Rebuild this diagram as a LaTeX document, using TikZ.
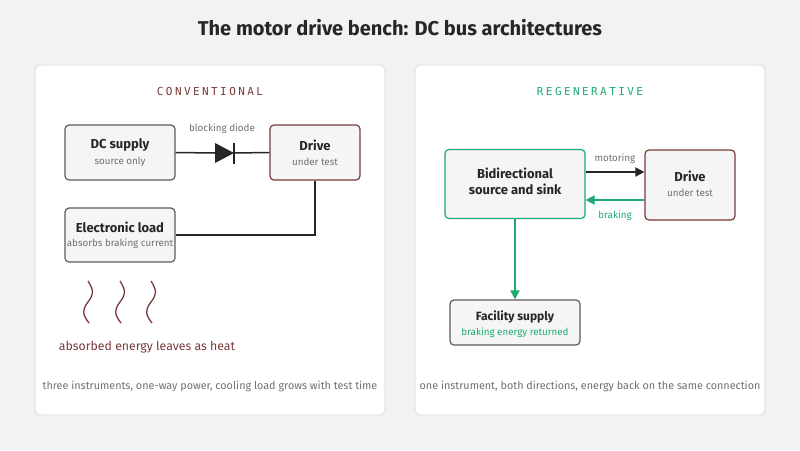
\documentclass[tikz,border=0pt]{standalone}
\usepackage{fontspec}
\setmainfont{Fira Sans}
\newfontfamily\monof{DejaVu Sans Mono}[LetterSpace=22]
\usetikzlibrary{arrows.meta}
\definecolor{bg}{HTML}{F2F2F2}
\definecolor{boxf}{HTML}{F5F5F5}
\definecolor{dred}{HTML}{7A3A3A}
\definecolor{grn}{HTML}{1DAA70}
\definecolor{ink}{HTML}{262626}
\definecolor{gr}{HTML}{707070}
\begin{document}
\begin{tikzpicture}[x=1pt,y=-1pt,
 panel/.style={draw=black!15,fill=white,rounded corners=6pt,line width=0.8pt},
 box/.style={draw=ink!75,fill=boxf,rounded corners=4pt,line width=1.2pt,align=center,inner sep=0pt},
 t/.style={font=\fontsize{13}{16}\selectfont\bfseries,text=ink},
 s/.style={font=\fontsize{9.8}{11}\selectfont,text=gr},
 wire/.style={draw=ink,line width=1.5pt},
 garr/.style={draw=grn,line width=1.8pt,-{Triangle[length=9pt,width=9pt]}},
 barr/.style={draw=ink,line width=1.8pt,-{Triangle[length=9pt,width=9pt]}}]
\useasboundingbox (0,0) rectangle (800,450);
\fill[bg] (0,0) rectangle (800,450);
\node[font=\fontsize{20}{23}\selectfont\bfseries,text=ink] (title) at (400,28) {The motor drive bench: DC bus architectures};
\draw[panel] (35,65) rectangle (385,415);
\draw[panel] (415,65) rectangle (765,415);
\node[font=\monof\fontsize{11}{12}\selectfont,text=dred] (h1) at (210,91) {CONVENTIONAL};
\node[font=\monof\fontsize{11}{12}\selectfont,text=grn] (h2) at (590,91) {REGENERATIVE};
% left
\node[box,minimum width=110pt,minimum height=55pt] (dc) at (120,152.5) {};
\node[t] (dct) at (120,145) {DC supply};
\node[s] (dcs) at (120,162) {source only};
\node[box,draw=dred,minimum width=90pt,minimum height=55pt] (dr) at (315,152.5) {};
\node[t] (drt) at (315,145) {Drive};
\node[s] (drs) at (315,162) {under test};
\node[box,minimum width=110pt,minimum height=54pt] (el) at (120,235) {};
\node[t] (elt) at (120,227) {Electronic load};
\node[s] (els) at (120,244) {absorbs braking current};
\coordinate (d1) at (215,153); \coordinate (d2) at (234,153);
\draw[wire] (dc.east) -- (d1);
\draw[wire] (d2) -- (dr.west);
\fill[ink] (215,143) -- (234,153) -- (215,163) -- cycle;
\draw[ink,line width=1.5pt] (234,142.5) -- (234,163.5);
\node[s] (bd) at (222,129) {blocking diode};
\draw[wire] (dr.south) |- (el.east);
\foreach \x in {88,120,151}{
 \draw[dred,line width=1.3pt] (\x,281) .. controls (\x+6,291) and (\x+6,294) .. (\x,302) .. controls (\x-6,310) and (\x-6,314) .. (\x+1,323);}
\node[font=\fontsize{12.3}{14}\selectfont,text=dred] (heat) at (147,347) {absorbed energy leaves as heat};
\node[s,font=\fontsize{10.8}{12}\selectfont] (f1) at (210,386) {three instruments, one-way power, cooling load grows with test time};
% right
\node[box,draw=grn,minimum width=140pt,minimum height=69pt] (bi) at (515,184) {};
\node[t,align=center] (bit) at (515,181) {Bidirectional\\source and sink};
\node[box,draw=dred,minimum width=90pt,minimum height=70pt] (dr2) at (690,185) {};
\node[t] (dr2t) at (690,176) {Drive};
\node[s] (dr2s) at (690,193) {under test};
\node[box,minimum width=130pt,minimum height=45pt] (fa) at (515,322.5) {};
\node[t,font=\fontsize{12}{14}\selectfont\bfseries] (fat) at (515,317) {Facility supply};
\node[s,text=grn] (fas) at (515,333) {braking energy returned};
\draw[barr] (bi.east|-0,172) -- (dr2.west|-0,172);
\draw[garr] (dr2.west|-0,200) -- (bi.east|-0,200);
\node[s] (mo) at (615,159) {motoring};
\node[s,text=grn] (br) at (615,216) {braking};
\draw[garr] (bi.south) -- (fa.north);
\node[s,font=\fontsize{10.8}{12}\selectfont] (f2) at (590,386) {one instrument, both directions, energy back on the same connection};
\end{tikzpicture}
\end{document}
